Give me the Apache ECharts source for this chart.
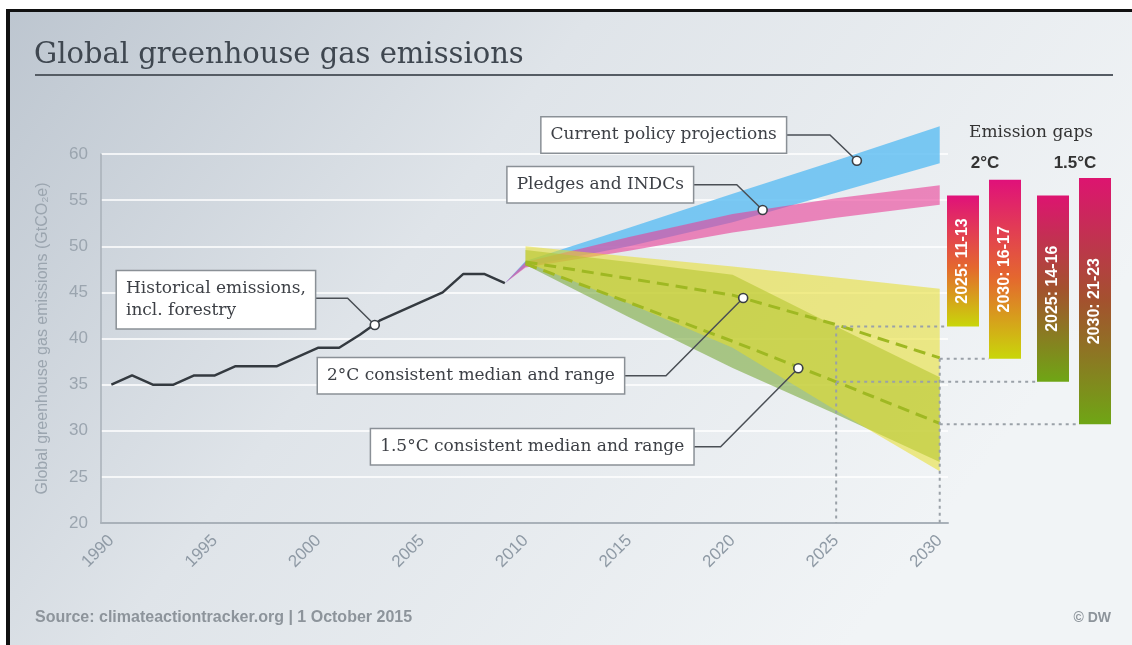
<!DOCTYPE html>
<html><head><meta charset="utf-8">
<script src="https://cdn.jsdelivr.net/npm/echarts@6/dist/echarts.min.js"></script>
<style>html,body{margin:0;padding:0;background:#fff}#c{width:1132px;height:645px}</style>
</head><body><div id="c"></div>
<script>
// ---------- data ----------
const histYears = [1990,1991,1992,1993,1994,1995,1996,1997,1998,1999,2000,2001,2002,2003,2004,2005,2006,2007,2008,2009];
const histValues = [35,36,35,35,36,36,37,37,37,38,39,39,40.4,42,43,44,45,47,47,46];

const projYears = [2009,2010,2015,2020,2025,2030];
const currentLow  = [46,47.8,50.0,52.6,55.8,59.0];
const currentHigh = [46,48.4,52.0,55.7,59.3,63.0];
const pledgeLow   = [46,47.7,49.5,51.5,53.1,54.5];
const pledgeHigh  = [46,48.3,51.0,53.5,55.2,56.6];

const pathYears = [2010,2015,2020,2025,2030];
const twoLow      = [48.3,43.8,39.0,32.2,25.6];
const twoHigh     = [50.0,48.9,47.8,46.6,45.4];
const twoMedian   = [48.3,46.5,44.7,41.5,37.9];
const oneFiveLow    = [48.0,42.3,36.8,31.8,26.6];
const oneFiveHigh   = [49.6,48.3,46.9,41.3,35.8];
const oneFiveMedian = [48.1,43.9,39.7,35.3,30.8];

const gapLabels = ['2025: 11-13','2030: 16-17','2025: 14-16','2030: 21-23'];
const gapYears  = [2025,2030,2025,2030];
const gapTop    = [55.5,57.2,55.5,57.4];
const gapBottom = [41.3,37.8,35.3,30.7];
const gapTarget = ['2','2','1.5','1.5'];

const xTickLabels = [1990,1995,2000,2005,2010,2015,2020,2025,2030];

const notes = [
  {text:'Current policy projections', box:[2022.57,62.06], elbow:[2024.7,62.06], point:[2026.0,59.27]},
  {text:'Pledges and INDCs', box:[2018.08,56.67], elbow:[2020.2,56.67], point:[2021.45,53.93]},
  {text:'Historical emissions,\nincl. forestry', box:[1990.27,44.2], align:'left', elbow:[2001.41,44.36], point:[2002.72,41.46]},
  {text:'2°C consistent median and range', box:[2014.75,35.97], elbow:[2016.78,35.97], point:[2020.51,44.39]},
  {text:'1.5°C consistent median and range', box:[2018.10,28.27], elbow:[2019.42,28.27], point:[2023.17,36.77]}
];

// ---------- layout / style ----------
const barOffsets = [-1, 41, 89, 131]; // from plot right edge, px
const barWidth = 32;
const serif = '"DejaVu Serif", serif';
const sans = '"Liberation Sans", Arial, sans-serif';

function bandSeries(name, xs, lows, highs, color, z) {
  return {
    type:'custom', name, z, clip:false, silent:true,
    data: xs.map((x,i)=>[x,lows[i],highs[i]]),
    encode:{x:0, y:[1,2]},
    renderItem:(params, api)=>{
      if (params.dataIndex !== 0) return null;
      const top = xs.map((x,i)=>api.coord([x,highs[i]]));
      const bot = xs.map((x,i)=>api.coord([x,lows[i]])).reverse();
      return {type:'polygon', shape:{points: top.concat(bot)}, style:{fill:color}};
    }
  };
}

function medianSeries(name, vals) {
  return {type:'line', name, z:6, silent:true, symbol:'none',
    data: pathYears.map((x,i)=>[x,vals[i]]),
    lineStyle:{color:'#9fb822', width:3, type:[12,7]}};
}

const gapSeries = {
  type:'custom', z:8, clip:false, silent:true,
  data: gapYears.map((y,i)=>[y,gapBottom[i],gapTop[i]]),
  encode:{x:0,y:[1,2]},
  renderItem:(params, api)=>{
    if (params.dataIndex !== 0) return null;
    const cs = params.coordSys;
    const right = cs.x + cs.width;
    const children = [];
    const dot = {stroke:'#9aa1a8', lineWidth:2, lineDash:[3,4]};
    [2025,2030].forEach(yr=>{
      let top = -Infinity;
      gapYears.forEach((g,i)=>{ if (g===yr) top = Math.max(top, gapBottom[i]); });
      const p1 = api.coord([yr, top]), p2 = api.coord([yr, 20]);
      children.push({type:'line', shape:{x1:p1[0],y1:p1[1],x2:p2[0],y2:p2[1]}, style:dot});
    });
    gapLabels.forEach((lab,i)=>{
      const left = right + barOffsets[i];
      const pT = api.coord([gapYears[i], gapTop[i]]);
      const pB = api.coord([gapYears[i], gapBottom[i]]);
      children.push({type:'line', shape:{x1:pB[0],y1:pB[1],x2:left,y2:pB[1]}, style:dot});
      const stops = gapTarget[i]==='2'
        ? [{offset:0,color:'#e0117a'},{offset:0.55,color:'#e4682e'},{offset:1,color:'#c9d60a'}]
        : [{offset:0,color:'#dd1470'},{offset:0.5,color:'#a3522e'},{offset:1,color:'#6fa615'}];
      children.push({type:'rect', shape:{x:left,y:pT[1],width:barWidth,height:pB[1]-pT[1]},
        style:{fill:new echarts.graphic.LinearGradient(0,0,0,1,stops)}});
      children.push({type:'text', x:left+barWidth/2, y:(pT[1]+pB[1])/2, rotation:Math.PI/2,
        style:{text:lab, fill:'#ffffff', font:'bold 16px '+sans, align:'center', verticalAlign:'middle'}});
    });
    return {type:'group', children};
  }
};

const noteSeries = {
  type:'custom', z:12, clip:false, silent:true,
  data: notes.map(n=>n.point),
  encode:{x:0,y:1},
  renderItem:(params, api)=>{
    const n = notes[params.dataIndex];
    const b = api.coord(n.box), e = api.coord(n.elbow), p = api.coord(n.point);
    const start = n.align === 'left' ? [b[0]+20, e[1]] : b;
    return {type:'group', children:[
      {type:'polyline', shape:{points:[start,e,p]}, style:{stroke:'#4a4f55', lineWidth:1.5, fill:null}},
      {type:'circle', shape:{cx:p[0], cy:p[1], r:4.5}, style:{fill:'#ffffff', stroke:'#3a3f45', lineWidth:1.6}},
      {type:'text', x:b[0], y:b[1], style:{text:n.text, font:'17px '+serif, fill:'#3d4046',
        align:n.align || 'right', verticalAlign:'middle', backgroundColor:'#ffffff', borderColor:'#8a9096',
        borderWidth:1.5, padding:[7,9,6,9], lineHeight:22}}
    ]};
  }
};

const option = {
  animation:false,
  backgroundColor:{type:'linear', x:0, y:0, x2:0.75, y2:1, colorStops:[
    {offset:0,color:'#bcc5cf'},{offset:0.45,color:'#dfe4e9'},{offset:1,color:'#f1f4f6'}]},
  grid:{left:101, right:184, top:154, bottom:122},
  xAxis:{type:'value', min:1989.5, max:2030.4,
    axisLine:{show:true, lineStyle:{color:'#a9b1b9', width:2}},
    axisTick:{show:false}, splitLine:{show:false},
    axisLabel:{customValues:xTickLabels, rotate:45, color:'#8f9aa5', fontSize:17, fontFamily:sans, margin:15,
      formatter:v=>String(v)}},
  yAxis:{type:'value', min:20, max:60, interval:5,
    name:'Global greenhouse gas emissions (GtCO₂e)', nameLocation:'middle', nameRotate:90, nameGap:50,
    nameTextStyle:{color:'#9ba5af', fontSize:16, fontFamily:sans},
    axisLine:{show:true, lineStyle:{color:'#a9b1b9', width:1.5}},
    axisTick:{show:false},
    splitLine:{show:true, lineStyle:{color:'#ffffff', width:1.5}},
    axisLabel:{color:'#9ba5af', fontSize:17, fontFamily:sans, margin:13}},
  series:[
    bandSeries('Current policy projections', projYears, currentLow, currentHigh, 'rgba(100,192,242,0.85)', 2),
    bandSeries('Pledges and INDCs', projYears, pledgeLow, pledgeHigh, 'rgba(234,62,150,0.6)', 3),
    bandSeries('1.5°C range', pathYears, oneFiveLow, oneFiveHigh, 'rgba(124,170,60,0.6)', 4),
    bandSeries('2°C range', pathYears, twoLow, twoHigh, 'rgba(232,222,40,0.55)', 5),
    medianSeries('2°C median', twoMedian),
    medianSeries('1.5°C median', oneFiveMedian),
    {type:'line', name:'Historical emissions', z:7, silent:true, symbol:'none',
      data: histYears.map((x,i)=>[x,histValues[i]]),
      lineStyle:{color:'#343a40', width:2.5}},
    gapSeries,
    noteSeries
  ],
  graphic:[
    {type:'rect', z:100, shape:{x:0,y:0,width:1132,height:9}, style:{fill:'#ffffff'}},
    {type:'rect', z:100, shape:{x:0,y:0,width:6,height:645}, style:{fill:'#ffffff'}},
    {type:'rect', z:101, shape:{x:6,y:9,width:1126,height:3}, style:{fill:'#111111'}},
    {type:'rect', z:101, shape:{x:6,y:9,width:4,height:636}, style:{fill:'#111111'}},
    {type:'text', x:34, y:55, style:{text:'Global greenhouse gas emissions', font:'29px '+serif, fill:'#3f4750', verticalAlign:'middle'}},
    {type:'rect', shape:{x:35,y:74,width:1078,height:2}, style:{fill:'#555c64'}},
    {type:'text', x:1031, y:133, style:{text:'Emission gaps', font:'17px '+serif, fill:'#333333', align:'center', verticalAlign:'middle'}},
    {type:'text', x:985, y:163, style:{text:'2°C', font:'bold 17px '+sans, fill:'#333333', align:'center', verticalAlign:'middle'}},
    {type:'text', x:1075, y:163, style:{text:'1.5°C', font:'bold 17px '+sans, fill:'#333333', align:'center', verticalAlign:'middle'}},
    {type:'text', x:35, y:618, style:{text:'Source: climateactiontracker.org | 1 October 2015', font:'bold 16px '+sans, fill:'#8d949b', verticalAlign:'middle'}},
    {type:'text', x:1111, y:618, style:{text:'© DW', font:'bold 14px '+sans, fill:'#8d949b', align:'right', verticalAlign:'middle'}}
  ]
};
const chart = echarts.init(document.getElementById('c'));
chart.setOption(option);
</script></body></html>
